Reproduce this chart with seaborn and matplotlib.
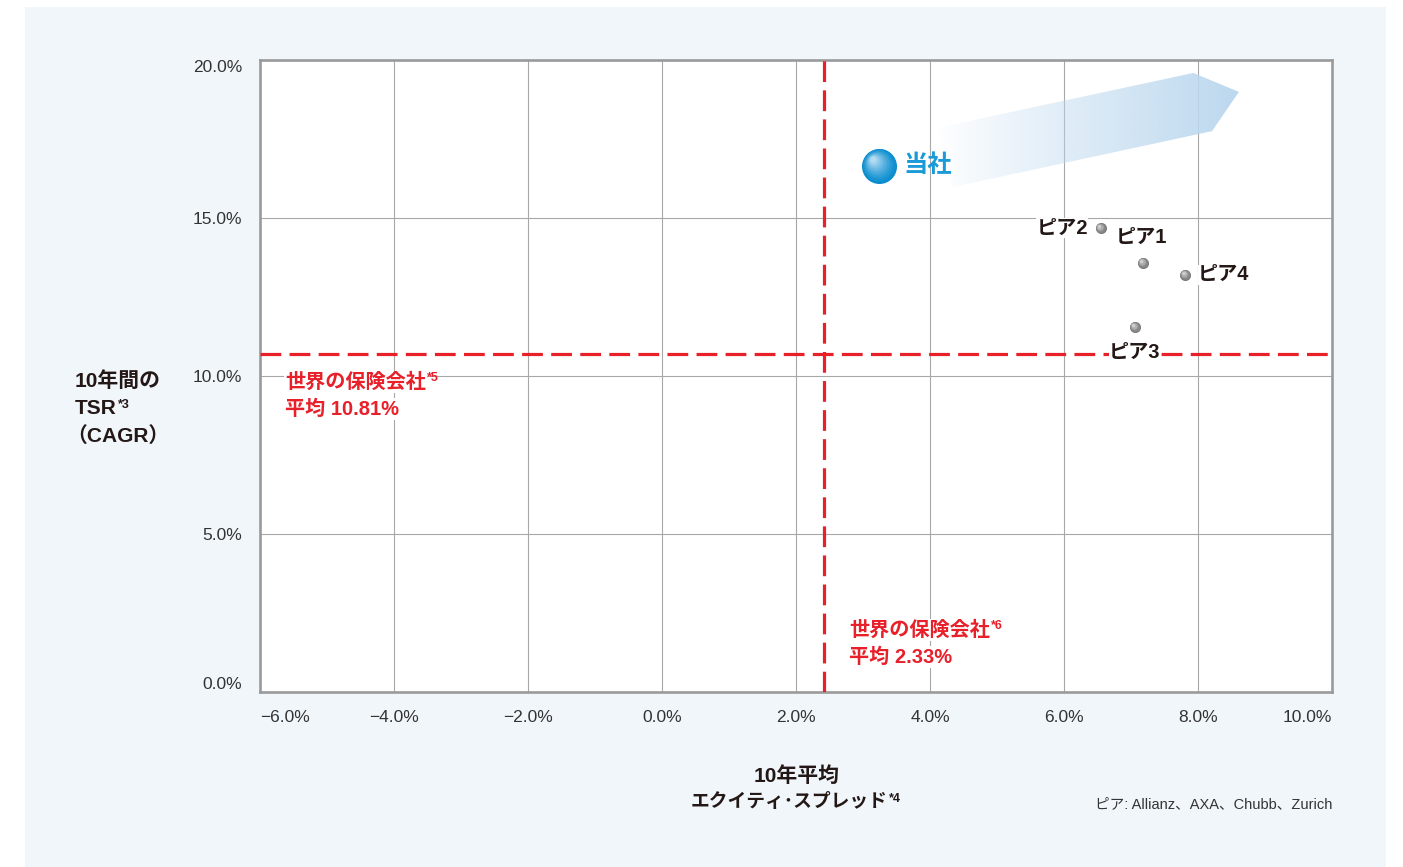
#!/usr/bin/env python3

import numpy as np
import pandas as pd
import matplotlib

matplotlib.use("Agg")
import matplotlib.pyplot as plt
import matplotlib.transforms as mtransforms
from matplotlib.colors import to_rgb
from matplotlib.patches import Polygon, Rectangle
import seaborn as sns

# values (%)
peer_names = ["ピア1", "ピア2", "ピア3", "ピア4"]
peer_spread = [7.18, 6.55, 7.06, 7.81]
peer_tsr = [13.58, 14.68, 11.55, 13.20]
company_name = ["当社"]
company_spread = [3.24]
company_tsr = [16.65]

avg_spread_pos = 2.42  # where the dashed line sits in the picture
avg_tsr_pos = 10.70
avg_spread_text = "平均 2.33%"
avg_tsr_text = "平均 10.81%"

x_ticks = [-6, -4, -2, 0, 2, 4, 6, 8, 10]
y_ticks = [0, 5, 10, 15, 20]

# decorative arrow behind 当社 (data coords)
arrow_shape = [(4.10, 17.85), (7.93, 19.59), (8.61, 18.99), (8.21, 17.75), (4.34, 15.98)]

RED = "#e8202a"
BLUE = "#1a9ad6"
INK = "#231815"
W, H = 1403, 867

sns.set_style("whitegrid")
plt.rcParams["font.family"] = ["Liberation Sans", "Noto Sans CJK JP", "DejaVu Sans"]


def fx(px):
    return px / W


def fy(py):
    return 1 - py / H


def blend(c1, c2, f):
    a, b = np.array(to_rgb(c1)), np.array(to_rgb(c2))
    return tuple(a + (b - a) * f)


fig = plt.figure(figsize=(W / 100, H / 100), dpi=100)
fig.patch.set_facecolor("white")
fig.patches.append(
    Rectangle((fx(25), 0), fx(1386) - fx(25), fy(7), transform=fig.transFigure,
              facecolor="#f1f6fb", edgecolor="none", zorder=-10)
)

ax = fig.add_axes([fx(260), fy(692), fx(1332) - fx(260), fy(60) - fy(692)])
ax.set_facecolor("white")

# gradient arrow
poly = Polygon(arrow_shape, closed=True, facecolor="none", edgecolor="none")
ax.add_patch(poly)
xs = [p[0] for p in arrow_shape]
ys = [p[1] for p in arrow_shape]
ramp = np.linspace(0, 1, 256) ** 0.9
img = np.zeros((2, 256, 4))
img[..., :3] = to_rgb("#bcd8ef")
img[..., 3] = ramp
im = ax.imshow(img, extent=(min(xs), max(xs), min(ys), max(ys)), aspect="auto",
               origin="lower", zorder=1, interpolation="bilinear")
im.set_clip_path(poly)

# average lines
dash = (6.5, 2.6)
ax.axvline(avg_spread_pos, color=RED, linewidth=2.3, dashes=dash, zorder=3)
ax.axhline(avg_tsr_pos, color=RED, linewidth=2.3, dashes=dash, zorder=3)

# points
peers = pd.DataFrame({"name": peer_names, "spread": peer_spread, "tsr": peer_tsr})
comp = pd.DataFrame({"name": company_name, "spread": company_spread, "tsr": company_tsr})


def sphere(df, d_px, base, light, z):
    sns.scatterplot(data=df, x="spread", y="tsr", s=(d_px * 0.72) ** 2, color=base,
                    linewidth=0, ax=ax, zorder=z, legend=False)
    n = 14
    for i in range(1, n):
        f = i / n
        d = d_px * (1 - 0.9 * f)
        off = d_px * 0.2 * f
        tr = mtransforms.offset_copy(ax.transData, fig=fig, x=-off, y=off, units="dots")
        ax.scatter(df["spread"], df["tsr"], s=(d * 0.72) ** 2, color=blend(base, light, f ** 1.3),
                   linewidths=0, transform=tr, zorder=z + 0.01 * i)


sphere(peers, 11, "#7a7a7a", "#e0e0e0", 4)
sphere(comp, 35, "#0a8dcf", "#c4e4f7", 4)

# axes styling (after seaborn, which sets its own labels)
ax.set_xlim(-6, 10)
ax.set_ylim(0, 20)
ax.set_axisbelow(True)
ax.grid(True, color="#a8a8a8", linewidth=0.8)
for s in ax.spines.values():
    s.set_color("#9a9a9a")
    s.set_linewidth(1.9)
ax.set_xlabel("")
ax.set_ylabel("")
ax.set_xticks(x_ticks)
ax.set_yticks(y_ticks)
ax.set_xticklabels([f"{v:.1f}%".replace("-", "−") for v in x_ticks])
ax.set_yticklabels([f"{v:.1f}%" for v in y_ticks])
ax.tick_params(axis="both", length=0, labelsize=12.5, labelcolor="#333333")
ax.tick_params(axis="x", pad=13)
ax.tick_params(axis="y", pad=13)
xl = ax.get_xticklabels()
xl[0].set_ha("left")
xl[-1].set_ha("right")
yl = ax.get_yticklabels()
yl[0].set_va("bottom")
yl[-1].set_va("top")

label_pos = {
    "ピア1": ((-2, 25), "center"),
    "ピア2": ((-13, 0), "right"),
    "ピア3": ((0, -25), "center"),
    "ピア4": ((13, 0), "left"),
}
for name, sx, ty in zip(peer_names, peer_spread, peer_tsr):
    off, ha = label_pos[name]
    ax.annotate(name, (sx, ty), xytext=off, textcoords="offset pixels", ha=ha, va="center",
                fontsize=14.5, fontweight="bold", color=INK, zorder=6,
                bbox=dict(facecolor="white", edgecolor="none", pad=0.5))

ax.annotate(company_name[0], (company_spread[0], company_tsr[0]), xytext=(24, 0),
            textcoords="offset pixels", ha="left", va="center", fontsize=17.5,
            fontweight="bold", color=BLUE, zorder=6)

# red annotations
box = dict(facecolor="white", edgecolor="none", pad=1)


def sup_after(artist, text, color):
    ax.annotate(text, xy=(1, 1), xycoords=artist, xytext=(1, 0), textcoords="offset points",
                ha="left", va="top", fontsize=9, fontweight="bold", color=color,
                annotation_clip=False, zorder=6)


def red_note(x_px, y1_px, y2_px, sup, second):
    t1 = fig.text(fx(x_px), fy(y1_px), "世界の保険会社", fontsize=14.5, fontweight="bold",
                  color=RED, ha="left", va="center", bbox=box, zorder=6)
    sup_after(t1, sup, RED)
    fig.text(fx(x_px), fy(y2_px), second, fontsize=14.5, fontweight="bold", color=RED,
             ha="left", va="center", bbox=box, zorder=6)


red_note(285, 382, 409, "*5", avg_tsr_text)
red_note(849, 630, 657, "*6", avg_spread_text)

# axis titles
fig.text(fx(75), fy(381), "10年間の", fontsize=15, fontweight="bold", color=INK,
         ha="left", va="center")
t = fig.text(fx(75), fy(408), "TSR", fontsize=15, fontweight="bold", color=INK,
             ha="left", va="center")
sup_after(t, "*3", INK)
fig.text(fx(66), fy(436), "（CAGR）", fontsize=15, fontweight="bold", color=INK,
         ha="left", va="center")

fig.text(fx(797), fy(776), "10年平均", fontsize=15, fontweight="bold", color=INK,
         ha="center", va="center")
t = fig.text(fx(789), fy(802), "エクイティ･スプレッド", fontsize=13.5, fontweight="bold",
             color=INK, ha="center", va="center")
sup_after(t, "*4", INK)

fig.text(fx(1332), fy(804), "ピア: Allianz、AXA、Chubb、Zurich", fontsize=10.5,
         color="#333333", ha="right", va="center")

fig.savefig("out.png", dpi=100)
